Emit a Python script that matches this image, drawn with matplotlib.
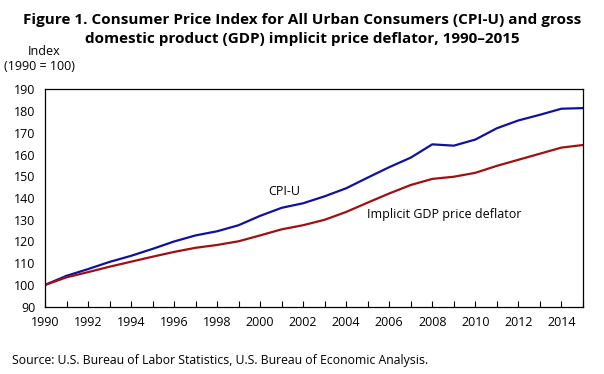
import matplotlib.pyplot as plt
import matplotlib.ticker as ticker

# Annual averages, 1990 = 100
years = list(range(1990, 2016))
cpi_u = [100.0, 104.2, 107.3, 110.6, 113.4, 116.6, 120.0, 122.8, 124.7, 127.5,
         131.8, 135.5, 137.6, 140.8, 144.5, 149.4, 154.2, 158.6, 164.7, 164.1,
         166.9, 172.1, 175.7, 178.3, 181.1, 181.4]
gdp_deflator = [100.0, 103.5, 105.9, 108.4, 110.7, 113.0, 115.2, 117.1, 118.4, 120.1,
                122.8, 125.6, 127.5, 130.0, 133.6, 137.9, 142.1, 146.0, 148.8, 149.8,
                151.6, 154.8, 157.6, 160.4, 163.2, 164.4]
x_labels = list(range(1990, 2015, 2))
y_ticks = list(range(90, 191, 10))

plt.rcParams["font.family"] = ["Open Sans", "DejaVu Sans"]

fig = plt.figure(figsize=(6.04, 3.74), dpi=100)
ax = fig.add_axes([0.0745, 0.18, 0.8905, 0.581])

ax.plot(years, cpi_u, color="#1111a0", linewidth=1.6)
ax.plot(years, gdp_deflator, color="#a01010", linewidth=1.6)

ax.set_xlim(1990, 2015)
ax.set_ylim(90, 190)
ax.set_yticks(y_ticks)
ax.set_xticks(x_labels)
ax.xaxis.set_minor_locator(ticker.MultipleLocator(1))
ax.tick_params(axis="x", which="both", direction="in", length=4, width=0.8,
               labelsize=9, pad=7)
ax.tick_params(axis="y", length=0, labelsize=9, pad=7)
for s in ax.spines.values():
    s.set_linewidth(0.9)

ax.text(2001.1, 142.8, "CPI-U", fontsize=9, ha="center", va="center")
ax.text(2008.55, 132.2, "Implicit GDP price deflator", fontsize=9, ha="center", va="center")

fig.text(0.5, 0.946, "Figure 1. Consumer Price Index for All Urban Consumers (CPI-U) and gross",
         ha="center", va="center", fontsize=11, fontweight="bold")
fig.text(0.5, 0.897, "domestic product (GDP) implicit price deflator, 1990\u20132015",
         ha="center", va="center", fontsize=11, fontweight="bold")
fig.text(0.073, 0.863, "Index", ha="center", va="center", fontsize=9)
fig.text(0.066, 0.821, "(1990 = 100)", ha="center", va="center", fontsize=9)
fig.text(0.02, 0.037, "Source: U.S. Bureau of Labor Statistics, U.S. Bureau of Economic Analysis.",
         ha="left", va="center", fontsize=8.8)

fig.savefig("out.png", dpi=100)
